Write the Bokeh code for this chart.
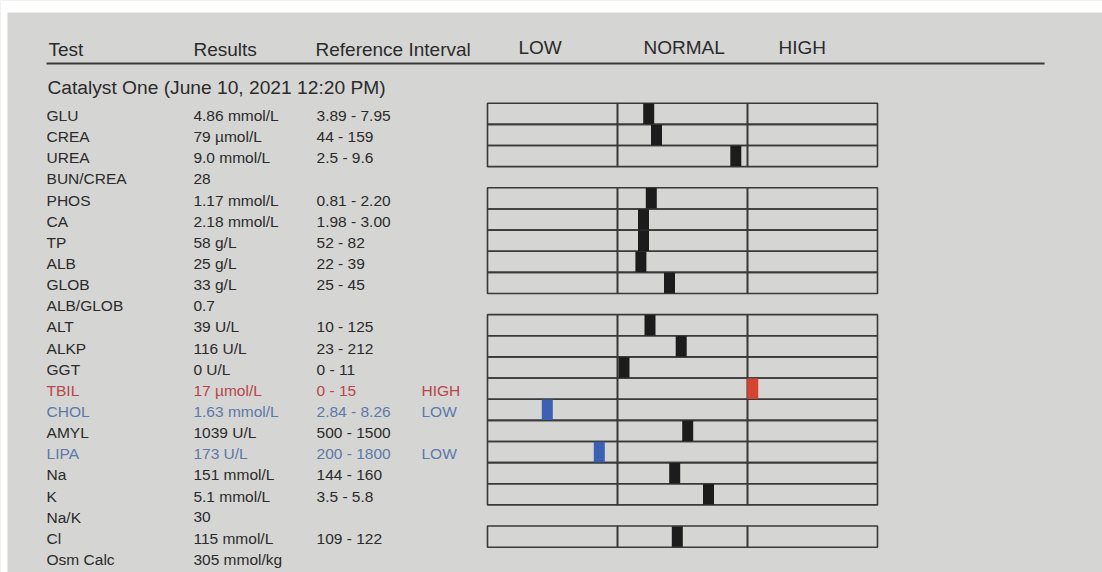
from bokeh.plotting import figure
from bokeh.models import Range1d, ColumnDataSource, BoxAnnotation
from bokeh.core.properties import value
from bokeh.embed import file_html
from bokeh.resources import INLINE

# ---------------- data ----------------
header_cols = ["Test", "Results", "Reference Interval"]
zone_labels = ["LOW", "NORMAL", "HIGH"]
section_title = "Catalyst One (June 10, 2021 12:20 PM)"

tests = ["GLU", "CREA", "UREA", "BUN/CREA", "PHOS", "CA", "TP", "ALB", "GLOB",
         "ALB/GLOB", "ALT", "ALKP", "GGT", "TBIL", "CHOL", "AMYL", "LIPA", "Na",
         "K", "Na/K", "Cl", "Osm Calc"]
results = ["4.86 mmol/L", "79 µmol/L", "9.0 mmol/L", "28", "1.17 mmol/L",
           "2.18 mmol/L", "58 g/L", "25 g/L", "33 g/L", "0.7", "39 U/L",
           "116 U/L", "0 U/L", "17 µmol/L", "1.63 mmol/L", "1039 U/L",
           "173 U/L", "151 mmol/L", "5.1 mmol/L", "30", "115 mmol/L",
           "305 mmol/kg"]
ref_intervals = ["3.89 - 7.95", "44 - 159", "2.5 - 9.6", "", "0.81 - 2.20",
                 "1.98 - 3.00", "52 - 82", "22 - 39", "25 - 45", "", "10 - 125",
                 "23 - 212", "0 - 11", "0 - 15", "2.84 - 8.26", "500 - 1500",
                 "200 - 1800", "144 - 160", "3.5 - 5.8", "", "109 - 122", ""]
flags = ["", "", "", "", "", "", "", "", "", "", "", "", "", "HIGH", "LOW", "",
         "LOW", "", "", "", "", ""]
# marker position on the LOW(0-1) / NORMAL(1-2) / HIGH(2-3) gauge
gauge_pos = [1.24, 1.30, 1.91, None, 1.26, 1.20, 1.20, 1.18, 1.40, None, 1.25,
             1.49, 1.05, 2.04, 0.46, 1.54, 0.86, 1.44, 1.70, None, 1.46, None]
# rows grouped into gauge blocks
gauge_groups = [[0, 1, 2], [4, 5, 6, 7, 8], [10, 11, 12, 13, 14, 15, 16, 17, 18], [20]]

# ---------------- style ----------------
PAPER = "#d5d5d3"
INK = "#2b2b2b"
LINE = "#3a3a3a"
RED_TXT = "#b5464c"
BLUE_TXT = "#5d79a9"
RED_MARK = "#d8432f"
BLUE_MARK = "#3b60b4"
FONT = value("Liberation Sans")

W, H = 1102, 572
# x in gauge units (1 zone = 130 px), y in row units (1 row = 21.14 px)
ZPX = 130.0
X0PX = 487.0
RPX = 21.14
Y0PX = 115.0

p = figure(width=W, height=H,
           x_range=Range1d(-X0PX / ZPX, (W - X0PX) / ZPX),
           y_range=Range1d((H - Y0PX) / RPX, -Y0PX / RPX),
           x_axis_type=None, y_axis_type=None,
           output_backend="svg", toolbar_location=None, min_border=0)
p.grid.visible = False
p.outline_line_color = None
p.background_fill_color = PAPER
p.border_fill_color = PAPER

# white page edges around the photographed sheet (screen y measured from the bottom)
p.add_layout(BoxAnnotation(top=H, bottom=H - 12, left=0, right=W,
                           top_units="screen", bottom_units="screen",
                           left_units="screen", right_units="screen",
                           fill_color="white", fill_alpha=1, line_color=None))
p.add_layout(BoxAnnotation(top=H, bottom=0, left=0, right=7,
                           top_units="screen", bottom_units="screen",
                           left_units="screen", right_units="screen",
                           fill_color="white", fill_alpha=1, line_color=None))

# column x positions (gauge units)
X_TEST, X_RES, X_REF, X_FLAG = -3.392, -2.262, -1.315, -0.508
hdr_x = [-3.377, -2.262, -1.323]
zone_hdr_x = [0.238, 1.20, 2.238]

# header
p.text(x=hdr_x, y=[-3.12] * 3, text=header_cols, text_font=FONT,
       text_font_size="19px", text_color=INK, text_baseline="middle")
p.text(x=zone_hdr_x, y=[-3.20] * 3, text=zone_labels, text_font=FONT,
       text_font_size="19px", text_color=INK, text_baseline="middle")
p.segment(x0=[-3.392], y0=[-2.46], x1=[4.285], y1=[-2.46],
          line_color=LINE, line_width=2.2)
p.text(x=[-3.385], y=[-1.32], text=[section_title], text_font=FONT,
       text_font_size="19.2px", text_color=INK, text_baseline="middle")

# table rows
rows = list(range(len(tests)))
row_colors = [RED_TXT if f == "HIGH" else BLUE_TXT if f == "LOW" else INK for f in flags]
for xc, col in [(X_TEST, tests), (X_RES, results), (X_REF, ref_intervals), (X_FLAG, flags)]:
    src = ColumnDataSource(dict(x=[xc] * len(rows), y=rows, t=col, c=row_colors))
    p.text(x="x", y="y", text="t", text_color="c", source=src, text_font=FONT,
           text_font_size="15.5px", text_baseline="middle")

# gauge boxes
BOX_OFF = -0.08
lefts, rights, tops, bottoms = [], [], [], []
for grp in gauge_groups:
    for r in grp:
        for z in range(len(zone_labels)):
            lefts.append(z)
            rights.append(z + 1)
            tops.append(r + BOX_OFF - 0.5)
            bottoms.append(r + BOX_OFF + 0.5)
p.quad(left=lefts, right=rights, top=tops, bottom=bottoms, fill_alpha=0,
       line_color=LINE, line_width=1.6)

# markers
mx, my, mc = [], [], []
for r, pos in enumerate(gauge_pos):
    if pos is None:
        continue
    mx.append(pos)
    my.append(r + BOX_OFF)
    mc.append(RED_MARK if flags[r] == "HIGH" else BLUE_MARK if flags[r] == "LOW" else "#1c1c1c")
p.rect(x=mx, y=my, width=11, width_units="screen", height=0.97,
       fill_color=mc, line_color=None)

open("out.html", "w").write(file_html(p, INLINE))
